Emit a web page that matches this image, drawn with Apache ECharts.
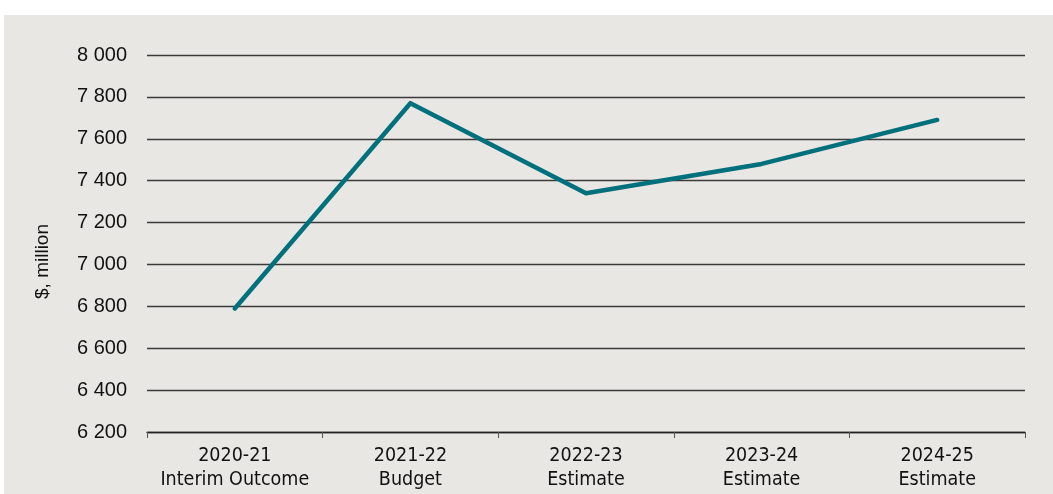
<!DOCTYPE html>
<html>
<head>
<meta charset="utf-8">
<script src="https://cdn.jsdelivr.net/npm/echarts@6/dist/echarts.min.js"></script>
<style>
html,body{margin:0;padding:0;background:#fff;}
#c{width:1053px;height:494px;}
</style>
</head>
<body>
<div id="c"></div>
<script>
const categories = ['2020-21\nInterim Outcome', '2021-22\nBudget', '2022-23\nEstimate', '2023-24\nEstimate', '2024-25\nEstimate'];
const values = [6790, 7770, 7340, 7480, 7690];
const yAxisName = '$, million';
const yMin = 6200, yMax = 8000, yStep = 200;

const chart = echarts.init(document.getElementById('c'), null, {renderer: 'canvas'});
chart.setOption({
  backgroundColor: '#ffffff',
  animation: false,
  graphic: [{
    type: 'rect', z: -10, silent: true,
    shape: {x: 4, y: 15, width: 1049, height: 479},
    style: {fill: '#E8E7E3'}
  }],
  grid: {left: 147, right: 28, top: 55, bottom: 62, containLabel: false},
  xAxis: {
    type: 'category',
    data: categories,
    boundaryGap: true,
    axisLine: {show: true, lineStyle: {color: '#222', width: 1.3}},
    axisTick: {show: true, length: 6, interval: 0, lineStyle: {color: '#555', width: 1}},
    axisLabel: {
      interval: 0, margin: 12, color: '#111',
      fontFamily: '"DejaVu Sans Condensed", "Liberation Sans Narrow", "Liberation Sans", sans-serif',
      fontSize: 19.5, lineHeight: 24
    },
    splitLine: {show: false}
  },
  yAxis: {
    type: 'value',
    min: yMin, max: yMax, interval: yStep,
    name: yAxisName,
    nameLocation: 'middle',
    nameGap: 95,
    nameRotate: 90,
    nameTextStyle: {color: '#111', fontSize: 19, fontFamily: '"Liberation Sans", Arial, sans-serif', padding: [0, 0, 0, -36]},
    axisLine: {show: false},
    axisTick: {show: false},
    axisLabel: {
      margin: 20, color: '#111', fontSize: 20,
      fontFamily: '"Liberation Sans", Arial, sans-serif',
      formatter: v => String(v).replace(/\B(?=(\d{3})+(?!\d))/g, ' ')
    },
    splitLine: {show: true, lineStyle: {color: '#3a3a3a', width: 1.3}}
  },
  series: [{
    type: 'line',
    data: values,
    symbol: 'none',
    lineStyle: {color: '#00707C', width: 4.5, cap: 'round', join: 'round'},
    itemStyle: {color: '#00707C'}
  }]
});
</script>
</body>
</html>
